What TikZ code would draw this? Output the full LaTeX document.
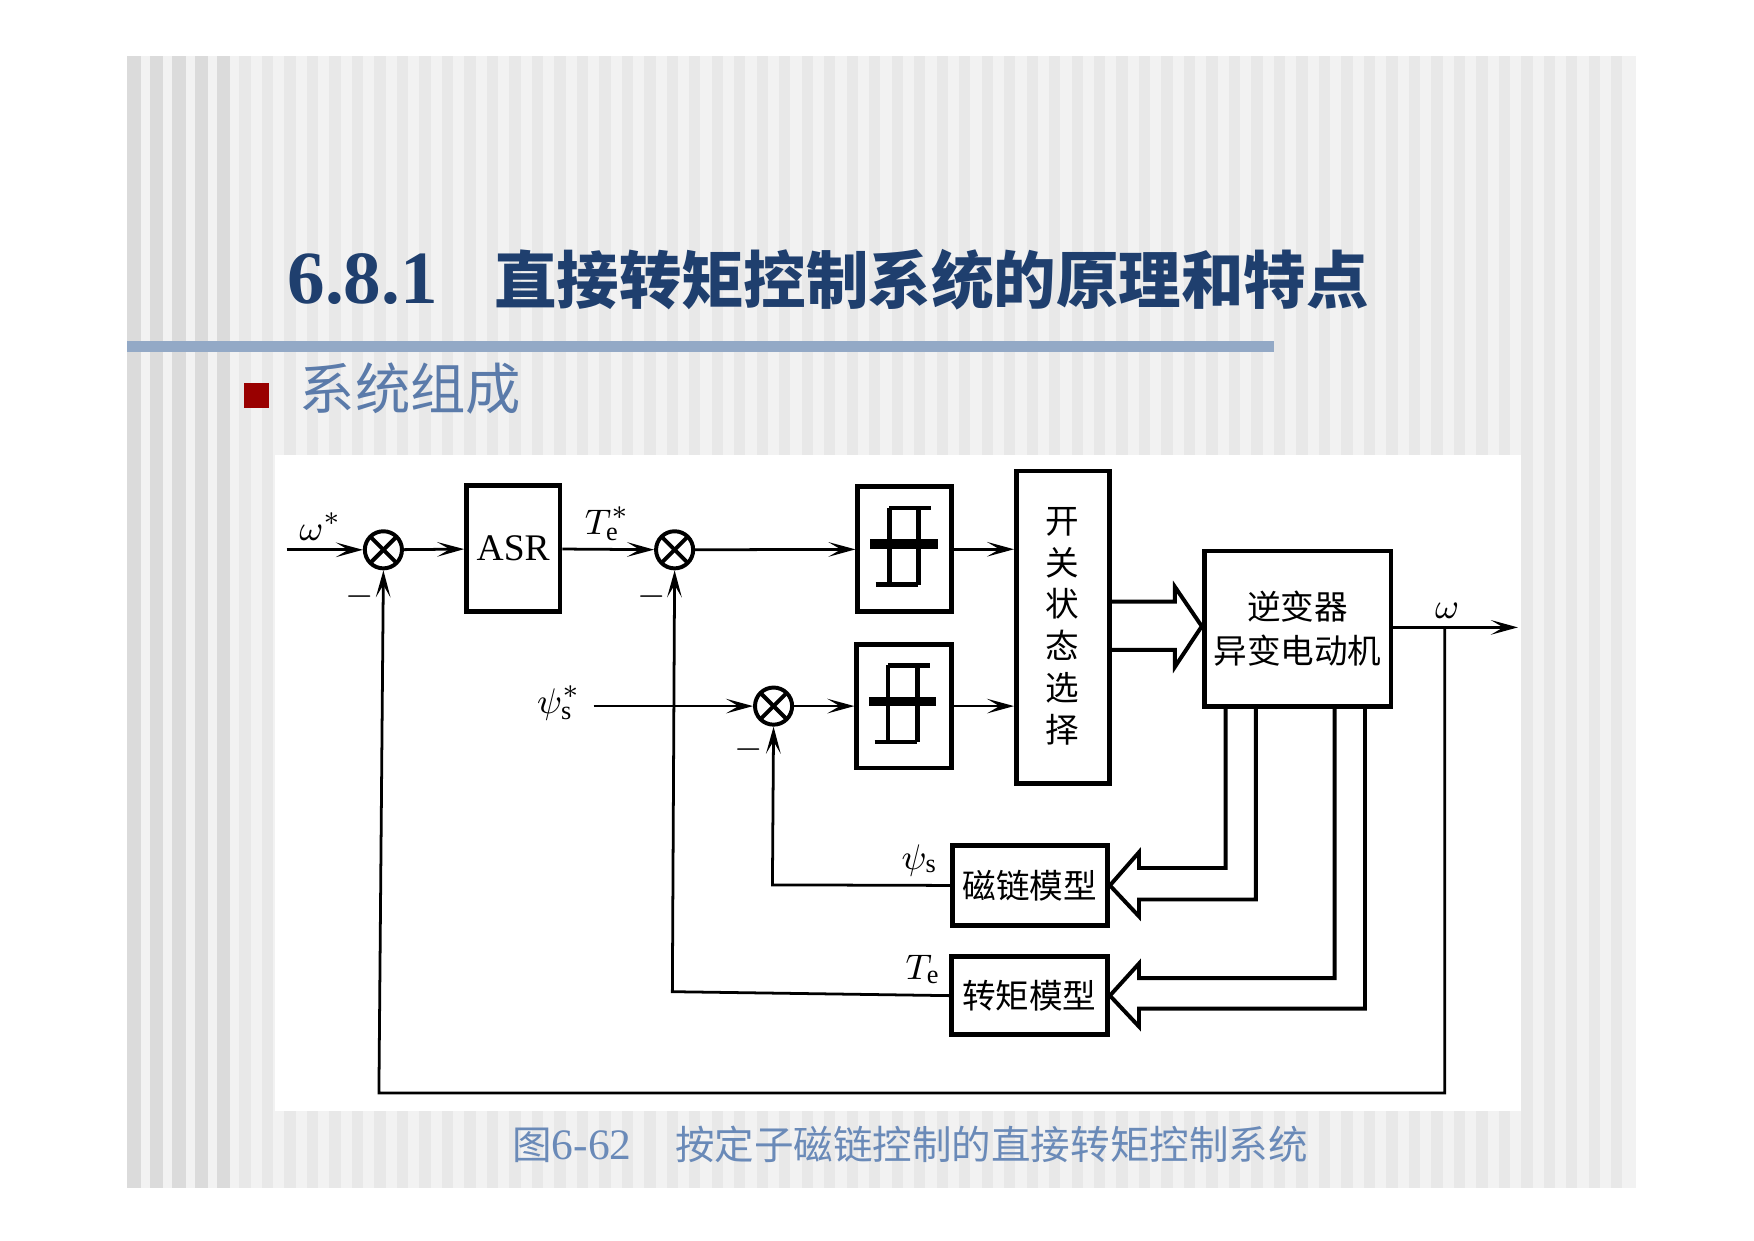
\documentclass[tikz,border=0pt]{standalone}
\usepackage{fontspec}
\setmainfont{Liberation Serif}
\newfontfamily\cjk{Noto Sans CJK SC}
\usetikzlibrary{arrows.meta}
\definecolor{ttl}{HTML}{1F3F6E}
\definecolor{sub}{HTML}{5B7BAA}
\definecolor{cap}{HTML}{6A8AB8}
\definecolor{barc}{HTML}{93A9C6}
\begin{document}
\begin{tikzpicture}[x=0.01cm,y=-0.01cm,
  blk/.style={draw,line width=1.2pt,inner sep=0pt},
  sumn/.style={draw,line width=1pt,circle,minimum size=0.33cm,inner sep=0pt,path picture={\draw[line width=1pt] (path picture bounding box.south west)--(path picture bounding box.north east);\draw[line width=1pt] (path picture bounding box.north west)--(path picture bounding box.south east);}},
  sig/.style={line width=0.7pt,-{Stealth[length=2.4mm,width=1.3mm,inset=1.1mm]}},
  dtxt/.style={font=\cjk\fontsize{8.5}{10}\selectfont},
  mtxt/.style={font=\fontsize{9.5}{11}\selectfont}]
\useasboundingbox (0,0) rectangle (1560,1103);
\fill[white] (0,0) rectangle (1560,1103);
\fill[black!5] (113,50) rectangle (1455,1057);
\foreach \i in {0,...,66} {\fill[black!9] (113+20*\i,50) rectangle (123+20*\i,1057);}
\foreach \i in {0,...,4} {\fill[black!14] (113+20*\i,50) rectangle (125+20*\i,1057);}
\fill[barc] (113,303) rectangle (1133,313);
\node[anchor=base west,text=ttl,inner sep=0pt] (title) at (255,270) {\bfseries\fontsize{19}{22}\selectfont 6.8.1\hspace{0.75em}{\cjk\fontsize{15.8}{20}\selectfont 直接转矩控制系统的原理和特点}};
\fill[red!60!black] (217,341) rectangle (239,363) coordinate (rs);
\node[anchor=base west,text=sub,inner sep=0pt,font=\cjk\fontsize{14}{17}\selectfont] (subt) at (266,364) {系统组成};
\fill[white] (245,405) rectangle (1353,988);
\node[anchor=base west,inner sep=0pt,text=cap] (capt) at (455,1031) {{\cjk\fontsize{10}{13}\selectfont 图}\fontsize{11}{13}\selectfont 6-62\hspace{1em}{\cjk\fontsize{10}{13}\selectfont 按定子磁链控制的直接转矩控制系统}};
% blocks
\node[sumn] (s1) at (341,489) {};
\node[sumn] (s2) at (600,489) {};
\node[sumn] (s3) at (688,628) {};
\node[blk,minimum width=0.83cm,minimum height=1.12cm,font=\fontsize{9.5}{12}\selectfont] (asr) at (456.5,488) {ASR};
\node[blk,minimum width=0.83cm,minimum height=1.11cm] (h1) at (804.5,488.5) {};
\node[blk,minimum width=0.84cm,minimum height=1.10cm] (h2) at (804,628) {};
\node[blk,minimum width=0.83cm,minimum height=2.78cm] (sw) at (945.5,558) {};
\node[align=center,font=\cjk\fontsize{8.5}{10.6}\selectfont] at (945,557) {开\\关\\状\\态\\选\\择};
\node[blk,minimum width=1.66cm,minimum height=1.38cm,align=center,font=\cjk\fontsize{8.5}{11}\selectfont] (inv) at (1154,559) {逆变器\\异变电动机};
\node[blk,minimum width=1.38cm,minimum height=0.71cm,dtxt] (fm) at (916,787.5) {磁链模型};
\node[blk,minimum width=1.39cm,minimum height=0.69cm,dtxt] (tm) at (915.5,885.5) {转矩模型};
% hysteresis symbols
\foreach \b in {h1,h2}{
 \begin{scope}[shift={(\b.north west)}]
  \draw[line width=1.2pt] (30,21)--(30,89) (56,21)--(56,89) (30,21)--(67,21) (18,89)--(56,89);
  \draw[line width=2.4pt] (13,53)--(73,53);
 \end{scope}}
% labels
\node[mtxt] (lw) at (285,468) {$\omega^*$};
\node[mtxt] (lte) at (540,466) {$T_{\mathrm e}^*$};
\node[mtxt] (lps) at (497,625) {$\psi_{\mathrm s}^*$};
\node[mtxt] (lw2) at (1287,543) {$\omega$};
\node[mtxt] (lps2) at (818,765) {$\psi_{\mathrm s}$};
\node[mtxt] (lte2) at (821,862) {$T_{\mathrm e}$};
\node[mtxt] at (320,531) {$-$};
\node[mtxt] at (580,531) {$-$};
\node[mtxt] at (666,667) {$-$};
% signal lines
\coordinate (win) at (255,489);
\coordinate (pin) at (528,628);
\draw[sig] (win)--(s1);
\draw[sig] (s1)--(asr);
\draw[sig] (asr)--(s2);
\draw[sig] (s2)--(h1);
\draw[sig] (h1.east)--(h1.east-|sw.west);
\draw[sig] (pin)--(s3);
\draw[sig] (s3)--(h2);
\draw[sig] (h2.east)--(h2.east-|sw.west);
\coordinate (wout) at (1350,558);
\coordinate (wb) at (1285,558);
\draw[sig] (inv.east|-wout)--(wout);
\draw[sig] (wb)--(1285,972)--(337,972)--(s1.south);
\draw[sig] (fm.west)--(687,787)--(s3.south);
\draw[sig] (tm.west)--(598,882)--(s2.south);
% hollow arrows
\draw[line width=1pt,line join=miter] (sw.east|-0,535)--(1045,535)--(1045,522)--(inv.west|-0,557)--(1045,593)--(1045,578)--(sw.east|-0,578);
\draw[line width=1pt,line join=miter] (1090,628)--(1090,772)--(1013,772)--(1013,758)--(fm.east)--(1013,815)--(1013,800)--(1117,800)--(1117,628);
\draw[line width=1pt,line join=miter] (1187,628)--(1187,870)--(1013,870)--(1013,857)--(tm.east)--(1013,913)--(1013,897)--(1214,897)--(1214,628);
\end{tikzpicture}
\end{document}
